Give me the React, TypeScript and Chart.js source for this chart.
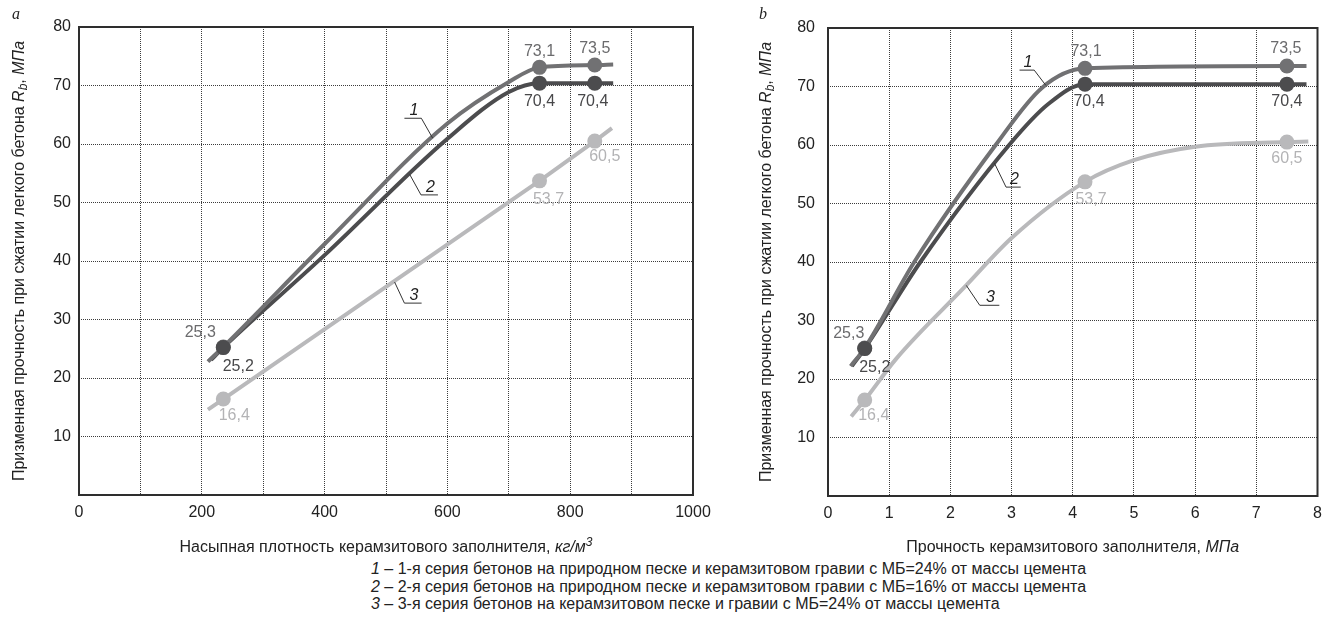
import React, { useEffect, useRef } from "react";
import { Chart, registerables } from "chart.js";

Chart.register(...registerables);

const FONT = "'Liberation Sans', Arial, sans-serif";
const SERIF = "'Liberation Serif', 'Times New Roman', serif";

const C1 = "#717173";
const C2 = "#4c4c4e";
const C3 = "#b9b9bb";
const T1 = "#6b6b6d";
const T2 = "#48484a";
const T3 = "#b3b3b5";

// ---------- Panel a: bulk density of aggregate ----------
const xPointsA = [235, 750, 840];
const s1A = [25.3, 73.1, 73.5];
const s2A = [25.2, 70.4, 70.4];
const s3A = [16.4, 53.7, 60.5];

const curve1AX = [210, 235, 400, 600, 700, 750, 840, 870];
const curve1AY = [22.8, 25.3, 42.9, 63.5, 70.6, 73.1, 73.5, 73.6];
const curve2AX = [215, 235, 400, 600, 700, 750, 840, 870];
const curve2AY = [23.1, 25.2, 41.0, 60.9, 68.9, 70.4, 70.4, 70.4];
const curve3AX = [210, 235, 750, 840, 868];
const curve3AY = [14.6, 16.4, 53.7, 60.5, 62.7];

// ---------- Panel b: aggregate strength ----------
const xPointsB = [0.6, 4.2, 7.5];
const s1B = [25.3, 73.1, 73.5];
const s2B = [25.2, 70.4, 70.4];
const s3B = [16.4, 53.7, 60.5];

const curve1BX = [0.37, 0.6, 1.41, 2.74, 3.5, 4.2, 7.5, 7.82];
const curve1BY = [22.2, 25.3, 40, 60, 69.8, 73.1, 73.5, 73.5];
const curve2BX = [0.39, 0.6, 1.51, 2.96, 3.6, 4.2, 7.5, 7.82];
const curve2BY = [22.2, 25.2, 40, 60, 67.0, 70.4, 70.4, 70.4];
const curve3BX = [0.38, 0.6, 1.11, 2.25, 3.0, 4.2, 5.0, 6.0, 7.5, 7.85];
const curve3BY = [13.6, 16.4, 23.4, 35.9, 44.1, 53.7, 57.4, 59.7, 60.5, 60.6];

const yTickValues = [10, 20, 30, 40, 50, 60, 70, 80];

const legendLines = [
  ["1", "1-я серия бетонов на природном песке и керамзитовом гравии с МБ=24% от массы цемента"],
  ["2", "2-я серия бетонов на природном песке и керамзитовом гравии с МБ=16% от массы цемента"],
  ["3", "3-я серия бетонов на керамзитовом песке и гравии с МБ=24% от массы цемента"],
];

type Seg = { t: string; it?: boolean; sub?: boolean; sup?: boolean };

const yTitle: Seg[] = [
  { t: "Призменная прочность при сжатии легкого бетона " },
  { t: "R", it: true },
  { t: "b", it: true, sub: true },
  { t: ", " },
  { t: "МПа", it: true },
];

function fmt(v: number) {
  return v.toFixed(1).replace(".", ",");
}

function drawRich(ctx: CanvasRenderingContext2D, segs: Seg[], cx: number, cy: number, size: number, rotate: boolean, color: string) {
  ctx.save();
  ctx.translate(cx, cy);
  if (rotate) ctx.rotate(-Math.PI / 2);
  const fontFor = (s: Seg) => `${s.it ? "italic " : ""}${s.sub || s.sup ? Math.round(size * 0.72) : size}px ${FONT}`;
  let total = 0;
  const widths = segs.map((s) => {
    ctx.font = fontFor(s);
    const w = ctx.measureText(s.t).width;
    total += w;
    return w;
  });
  let x = -total / 2;
  ctx.textBaseline = "alphabetic";
  ctx.textAlign = "left";
  ctx.fillStyle = color;
  segs.forEach((s, i) => {
    ctx.font = fontFor(s);
    const dy = s.sub ? size * 0.22 : s.sup ? -size * 0.38 : 0;
    ctx.fillText(s.t, x, size * 0.36 + dy);
    x += widths[i];
  });
  ctx.restore();
}

type Ann = { label: string; x1: number; x2: number; y: number; lx: number; ly: number; fromRight: boolean };
type Marker = { xs: number[]; ys: number[]; color: string; text: string; offsets: [number, number][] };

type PanelCfg = {
  letter: string;
  width: number;
  height: number;
  left: number;
  axisLeft: number;
  padRight: number;
  padTop: number;
  plotBottom: number;
  yPad: number;
  xMin: number;
  xMax: number;
  xStep: number;
  xLabelEvery: number;
  xTitle: Seg[];
  yTitleX: number;
  curves: { xs: number[]; ys: number[]; color: string; smooth: boolean }[];
  markers: Marker[];
  anns: Ann[];
};

function makePlugin(cfg: PanelCfg) {
  return {
    id: "decor" + cfg.letter,
    beforeDatasetsDraw(chart: any) {
      const { ctx, chartArea: a } = chart;
      ctx.save();
      ctx.strokeStyle = "#2e2e2e";
      ctx.lineWidth = 2;
      ctx.strokeRect(a.left, a.top, a.right - a.left, a.bottom - a.top);
      ctx.restore();
    },
    afterDatasetsDraw(chart: any) {
      const { ctx, scales } = chart;
      const xs = scales.x;
      const ys = scales.y;
      ctx.save();
      ctx.font = `16px ${FONT}`;
      ctx.textAlign = "center";
      ctx.textBaseline = "middle";
      cfg.markers.forEach((m) => {
        ctx.fillStyle = m.text;
        m.xs.forEach((xv, i) => {
          const px = xs.getPixelForValue(xv) + m.offsets[i][0];
          const py = ys.getPixelForValue(m.ys[i]) + m.offsets[i][1];
          ctx.fillText(fmt(m.ys[i]), px, py);
        });
      });
      cfg.anns.forEach((an) => {
        const x1 = xs.getPixelForValue(an.x1);
        const x2 = xs.getPixelForValue(an.x2);
        const y = ys.getPixelForValue(an.y);
        const lx = xs.getPixelForValue(an.lx);
        const ly = ys.getPixelForValue(an.ly);
        ctx.strokeStyle = "#333";
        ctx.lineWidth = 1;
        ctx.beginPath();
        ctx.moveTo(x1, y);
        ctx.lineTo(x2, y);
        ctx.moveTo(an.fromRight ? x2 : x1, y);
        ctx.lineTo(lx, ly);
        ctx.stroke();
        ctx.fillStyle = "#222";
        ctx.font = `italic 16px ${FONT}`;
        ctx.textAlign = "center";
        ctx.textBaseline = "alphabetic";
        ctx.fillText(an.label, (x1 + x2) / 2 + 1, y - 3);
      });
      ctx.restore();
    },
    afterDraw(chart: any) {
      const { ctx, chartArea: a } = chart;
      drawRich(ctx, cfg.xTitle, (a.left + a.right) / 2, 546, 16, false, "#222");
      drawRich(ctx, yTitle, cfg.yTitleX, (a.top + a.bottom) / 2, 16, true, "#222");
      ctx.save();
      ctx.font = `italic 16px ${SERIF}`;
      ctx.fillStyle = "#222";
      ctx.textAlign = "center";
      ctx.textBaseline = "middle";
      ctx.fillText(cfg.letter, cfg.yTitleX - 2, 15);
      ctx.restore();
    },
  };
}

function Panel({ cfg }: { cfg: PanelCfg }) {
  const ref = useRef<HTMLCanvasElement | null>(null);
  useEffect(() => {
    if (!ref.current) return;
    const datasets: any[] = [];
    const orderCurves = [4, 5, 6];
    cfg.curves.forEach((c, i) => {
      datasets.push({
        type: "line",
        data: c.xs.map((x, k) => ({ x, y: c.ys[k] })),
        borderColor: c.color,
        borderWidth: 4,
        pointRadius: 0,
        tension: c.smooth ? 0.4 : 0,
        cubicInterpolationMode: c.smooth ? "monotone" : "default",
        fill: false,
        order: orderCurves[i],
      });
    });
    const orderMarkers = [1, 0, 2];
    cfg.markers.forEach((m, i) => {
      datasets.push({
        type: "scatter",
        data: m.xs.map((x, k) => ({ x, y: m.ys[k] })),
        backgroundColor: m.color,
        borderColor: m.color,
        borderWidth: 0,
        pointRadius: 7.5,
        showLine: false,
        order: orderMarkers[i],
      });
    });
    const chart = new Chart(ref.current, {
      type: "scatter",
      data: { datasets },
      plugins: [makePlugin(cfg)],
      options: {
        animation: false,
        responsive: false,
        events: [],
        layout: { padding: { top: cfg.padTop, right: cfg.padRight, left: 0, bottom: 0 } },
        plugins: { legend: { display: false }, tooltip: { enabled: false } },
        scales: {
          x: {
            type: "linear",
            min: cfg.xMin,
            max: cfg.xMax,
            afterFit: (s: any) => {
              s.height = cfg.height - cfg.plotBottom;
              s.paddingLeft = 0;
              s.paddingRight = 0;
            },
            afterBuildTicks: (s: any) => {
              const t = [];
              for (let v = cfg.xMin; v <= cfg.xMax + 1e-9; v += cfg.xStep) t.push({ value: v });
              s.ticks = t;
            },
            ticks: {
              autoSkip: false,
              maxRotation: 0,
              padding: 8,
              color: "#222",
              font: { family: FONT, size: 16 },
              callback: (v: any) => {
                const n = Number(v);
                return Math.round(n / cfg.xStep) % cfg.xLabelEvery === 0 ? String(n) : "";
              },
            },
            grid: { color: "#3c3c3c", lineWidth: 1, drawTicks: false },
            border: { display: false, dash: [1, 1] },
          },
          y: {
            type: "linear",
            min: 0,
            max: 80,
            afterFit: (s: any) => {
              s.width = cfg.axisLeft;
            },
            afterBuildTicks: (s: any) => {
              s.ticks = [0, ...yTickValues].map((v) => ({ value: v }));
            },
            ticks: {
              padding: cfg.yPad,
              color: "#222",
              font: { family: FONT, size: 16 },
              callback: (v: any) => (Number(v) === 0 ? "" : String(v)),
            },
            grid: { color: "#3c3c3c", lineWidth: 1, drawTicks: false },
            border: { display: false, dash: [1, 1] },
          },
        },
      } as any,
    });
    return () => chart.destroy();
  }, [cfg]);
  return (
    <canvas
      ref={ref}
      width={cfg.width}
      height={cfg.height}
      style={{ position: "absolute", left: cfg.left, top: 0, width: cfg.width, height: cfg.height }}
    />
  );
}

const panelA: PanelCfg = {
  letter: "a",
  width: 720,
  height: 560,
  left: 0,
  axisLeft: 79,
  padRight: 27,
  padTop: 27,
  plotBottom: 495,
  yPad: 8,
  xMin: 0,
  xMax: 1000,
  xStep: 100,
  xLabelEvery: 2,
  xTitle: [
    { t: "Насыпная плотность керамзитового заполнителя, " },
    { t: "кг/м", it: true },
    { t: "3", it: true, sup: true },
  ],
  yTitleX: 18,
  curves: [
    { xs: curve3AX, ys: curve3AY, color: C3, smooth: false },
    { xs: curve1AX, ys: curve1AY, color: C1, smooth: true },
    { xs: curve2AX, ys: curve2AY, color: C2, smooth: true },
  ],
  markers: [
    { xs: xPointsA, ys: s1A, color: C1, text: T1, offsets: [[-23, -14], [0, -16], [0, -16]] },
    { xs: xPointsA, ys: s2A, color: C2, text: T2, offsets: [[15, 19], [0, 18], [-2, 18]] },
    { xs: xPointsA, ys: s3A, color: C3, text: T3, offsets: [[11, 17], [9, 19], [10, 16]] },
  ],
  anns: [
    { label: "1", x1: 530, x2: 557.6, y: 64.4, lx: 576, ly: 61.0, fromRight: true },
    { label: "2", x1: 557, x2: 584.6, y: 51.3, lx: 538.6, ly: 54.8, fromRight: false },
    { label: "3", x1: 530, x2: 558, y: 32.8, lx: 514, ly: 36.4, fromRight: false },
  ],
};

const panelB: PanelCfg = {
  letter: "b",
  width: 625,
  height: 560,
  left: 700,
  axisLeft: 128,
  padRight: 6,
  padTop: 28,
  plotBottom: 496,
  yPad: 13,
  xMin: 0,
  xMax: 8,
  xStep: 1,
  xLabelEvery: 1,
  xTitle: [{ t: "Прочность керамзитового заполнителя, " }, { t: "МПа", it: true }],
  yTitleX: 65,
  curves: [
    { xs: curve3BX, ys: curve3BY, color: C3, smooth: true },
    { xs: curve1BX, ys: curve1BY, color: C1, smooth: true },
    { xs: curve2BX, ys: curve2BY, color: C2, smooth: true },
  ],
  markers: [
    { xs: xPointsB, ys: s1B, color: C1, text: T1, offsets: [[-16, -14], [1, -17], [-1, -17]] },
    { xs: xPointsB, ys: s2B, color: C2, text: T2, offsets: [[10, 19], [4, 17], [0, 17]] },
    { xs: xPointsB, ys: s3B, color: C3, text: T3, offsets: [[9, 16], [6, 18], [0, 17]] },
  ],
  anns: [
    { label: "1", x1: 3.13, x2: 3.37, y: 72.8, lx: 3.56, ly: 70.2, fromRight: true },
    { label: "2", x1: 2.91, x2: 3.15, y: 52.8, lx: 2.72, ly: 56.9, fromRight: false },
    { label: "3", x1: 2.48, x2: 2.8, y: 32.6, lx: 2.26, ly: 36.0, fromRight: false },
  ],
};

export default function App() {
  useEffect(() => {
    document.body.style.margin = "0";
  }, []);
  return (
    <div style={{ position: "relative", width: 1325, height: 625, background: "#fff", overflow: "hidden" }}>
      <Panel cfg={panelA} />
      <Panel cfg={panelB} />
      <div
        style={{
          position: "absolute",
          left: 371,
          top: 560,
          fontFamily: FONT,
          fontSize: 16,
          lineHeight: "17.5px",
          color: "#222",
          whiteSpace: "nowrap",
        }}
      >
        {legendLines.map(([n, txt]) => (
          <div key={n}>
            <i>{n}</i> – {txt}
          </div>
        ))}
      </div>
    </div>
  );
}
